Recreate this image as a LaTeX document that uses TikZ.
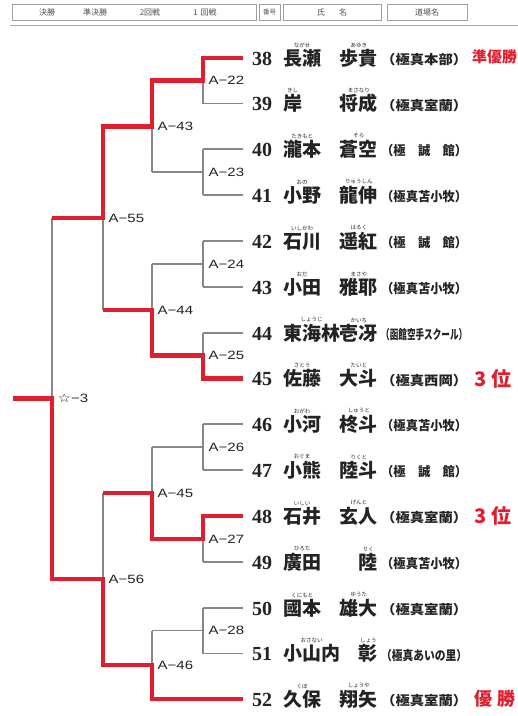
\documentclass[tikz,border=0pt]{standalone}
\usepackage{fontspec}
\usepackage{graphicx}
\usetikzlibrary{calc}
\newfontfamily\cjk{Noto Sans CJK JP}
\newfontfamily\numfont{Liberation Serif}
\newfontfamily\labfont{Liberation Sans}
\newfontfamily\symfont{DejaVu Sans}
\definecolor{bred}{RGB}{224,30,46}
\definecolor{lgray}{RGB}{135,135,135}
\definecolor{txt}{RGB}{35,35,35}
\definecolor{hgray}{RGB}{80,80,80}
\tikzset{
 gl/.style={draw=lgray, line width=1.1pt},
 rl/.style={draw=bred, line width=4.6pt, line join=miter},
 lab/.style={anchor=west, inner sep=0, text=txt, font=\labfont\fontsize{12}{12}\selectfont},
 numf/.style={inner sep=0, text=txt, font=\numfont\bfseries\fontsize{20}{20}\selectfont},
 namef/.style={inner sep=0, text=txt, font=\cjk\bfseries\fontsize{19}{19}\selectfont},
 furif/.style={inner sep=0, anchor=south, text=txt, font=\cjk\fontsize{5.5}{5.5}\selectfont},
 dojof/.style={inner sep=0, anchor=west, text=txt, font=\cjk\bfseries},
 resf/.style={inner sep=0, anchor=west, text=bred, font=\cjk\bfseries\fontsize{19}{19}\selectfont},
 hbox/.style={draw=lgray!80, line width=0.8pt, inner sep=0, minimum height=16pt},
 htxt/.style={inner sep=0, text=hgray, font=\cjk\fontsize{8}{8}\selectfont},
}
\newcommand\player[7]{%
  \node[numf, anchor=base west] (n#1) at (252,#2+7) {#1};
  \node[namef, anchor=base west] (s#1) at (283,#2+7) {#3};
  \node[furif] (sf#1) at ([yshift=1pt]s#1.north) {#4};
  \node[namef, anchor=base east] (g#1) at (378,#2+7) {#5};
  \node[furif] (gf#1) at ([yshift=1pt]g#1.north) {#6};
  \node[dojof] (d#1) at (381,#2+2) {\resizebox*{86pt}{12.5pt}{#7}};
}
\newcommand\mlabel[2]{\node[lab] (l#1) at ([xshift=5.5pt]#1) {\scalebox{1.25}[1]{#2}};}
\begin{document}
\begin{tikzpicture}[x=1pt,y=-1pt]
\fill[white] (0,0) rectangle (518,716);
\useasboundingbox (0,0) rectangle (518,716);

% header
\node[hbox, minimum width=244pt] (hb1) at (134,12) {};
\node[hbox, minimum width=21pt] (hb2) at (269.5,12) {};
\node[hbox, minimum width=98pt] (hb3) at (332,12) {};
\node[hbox, minimum width=80pt] (hb4) at (427,12) {};
\node[htxt] (ht1) at (47,12) {決勝};
\node[htxt] (ht2) at (95,12) {準決勝};
\node[htxt] (ht3) at (150,12) {2回戦};
\node[htxt] (ht4) at (205,12) {1\hspace{3pt}回戦};
\node[htxt, font=\cjk\fontsize{6.5}{6.5}\selectfont] (ht5) at (269.5,12) {番号};
\node[htxt] (ht6) at (332,12) {氏\hspace{14pt}名};
\node[htxt] (ht7) at (427,12) {道場名};
\coordinate (hl1) at (10,25.5);
\coordinate (hl2) at (518,25.5);
\draw[draw=lgray!70, line width=1.2pt] (hl1) -- (hl2);

% coordinates
\foreach \n/\y in {38/58,39/103.5,40/149,41/195,42/241,43/287,44/333,45/378.5,46/424,47/470,48/516,49/562,50/608,51/653.5}{
  \coordinate (e\n) at (203,\y);
  \coordinate (r\n) at (243,\y);
}
\coordinate (e52) at (152,699);
\coordinate (r52) at (243,699);
\coordinate (A22) at (203,80.75);
\coordinate (A23) at (203,172);
\coordinate (A24) at (203,264);
\coordinate (A25) at (203,355.75);
\coordinate (A26) at (203,447);
\coordinate (A27) at (203,539);
\coordinate (A28) at (203,630.75);
\coordinate (A43) at (152,126.4);
\coordinate (A44) at (152,309.9);
\coordinate (A45) at (152,493);
\coordinate (A46) at (152,664.9);
\coordinate (A55) at (103,218.1);
\coordinate (A56) at (103,579);
\coordinate (S3) at (52,398.5);
\coordinate (root) at (13,398.5);

% gray bracket
\foreach \n in {38,...,52}{\draw[gl] (e\n) -- (r\n);}
\foreach \a/\b in {38/39,40/41,42/43,44/45,46/47,48/49,50/51}{\draw[gl] (e\a) -- (e\b);}
\foreach \m/\p in {A22/A43,A23/A43,A24/A44,A25/A44,A26/A45,A27/A45,A28/A46,A43/A55,A44/A55,A45/A56,A46/A56,A55/S3,A56/S3}{\draw[gl] (\m) -- (\m -| \p);}
\draw[gl] (A22 -| A43) -- (A23 -| A43);
\draw[gl] (A24 -| A44) -- (A25 -| A44);
\draw[gl] (A26 -| A45) -- (A27 -| A45);
\draw[gl] (A28 -| A46) -- (e52);
\draw[gl] (A43 -| A55) -- (A44 -| A55);
\draw[gl] (A45 -| A56) -- (A46 -| A56);
\draw[gl] (A55 -| S3) -- (A56 -| S3);
\draw[gl] (S3) -- (root);

% red paths
\draw[rl] (r38) -- (e38) -- (A22) -- (A22 -| A43) -- (A43) -- (A43 -| A55) -- (A55) -- (A55 -| S3);
\draw[rl] (r45) -- (e45) -- (A25) -- (A25 -| A44) -- (A44) -- (A44 -| A55);
\draw[rl] (r48) -- (e48) -- (A27) -- (A27 -| A45) -- (A45) -- (A45 -| A56);
\draw[rl] (r52) -- (e52) -- (A46) -- (A46 -| A56) -- (A56) -- (A56 -| S3) -- (S3) -- (root);

% match labels
\mlabel{A22}{A−22}
\mlabel{A23}{A−23}
\mlabel{A24}{A−24}
\mlabel{A25}{A−25}
\mlabel{A26}{A−26}
\mlabel{A27}{A−27}
\mlabel{A28}{A−28}
\mlabel{A43}{A−43}
\mlabel{A44}{A−44}
\mlabel{A45}{A−45}
\mlabel{A46}{A−46}
\mlabel{A55}{A−55}
\mlabel{A56}{A−56}
\mlabel{S3}{{\symfont ☆}−3}

% players
\player{38}{58}{長瀬}{ながせ}{歩貴}{あゆき}{（極真本部）}
\player{39}{103.5}{岸}{きし}{将成}{まさなり}{（極真室蘭）}
\player{40}{149}{瀧本}{たきもと}{蒼空}{そら}{（極　誠　館）}
\player{41}{195}{小野}{おの}{龍伸}{りゅうしん}{（極真苫小牧）}
\player{42}{241}{石川}{いしかわ}{遥紅}{はるく}{（極　誠　館）}
\player{43}{287}{小田}{おだ}{雅耶}{まさや}{（極真苫小牧）}
\player{44}{333}{東海林}{しょうじ}{壱冴}{かいち}{（函館空手スクール）}
\player{45}{378.5}{佐藤}{さとう}{大斗}{たいと}{（極真西岡）}
\player{46}{424}{小河}{おがわ}{柊斗}{しゅうと}{（極真苫小牧）}
\player{47}{470}{小熊}{おぐま}{陸斗}{りくと}{（極　誠　館）}
\player{48}{516}{石井}{いしい}{玄人}{げんと}{（極真室蘭）}
\player{49}{562}{廣田}{ひろた}{陸}{りく}{（極真苫小牧）}
\player{50}{608}{國本}{くにもと}{雄大}{ゆうた}{（極真室蘭）}
\player{51}{653.5}{小山内}{おさない}{彰}{しょう}{（極真あいの里）}
\player{52}{699}{久保}{くぼ}{翔矢}{しょうや}{（極真室蘭）}

% results
\node[resf, font=\cjk\bfseries\fontsize{15}{15}\selectfont] (res38) at (472,57) {準優勝};
\node[resf, font=\cjk\bfseries\fontsize{20}{20}\selectfont] (res45) at (474,379) {3\hspace{5pt}位};
\node[resf, font=\cjk\bfseries\fontsize{20}{20}\selectfont] (res48) at (474,516) {3\hspace{5pt}位};
\node[resf, font=\cjk\bfseries\fontsize{18}{18}\selectfont] (res52) at (474,699) {優\hspace{5pt}勝};
\end{tikzpicture}
\end{document}
